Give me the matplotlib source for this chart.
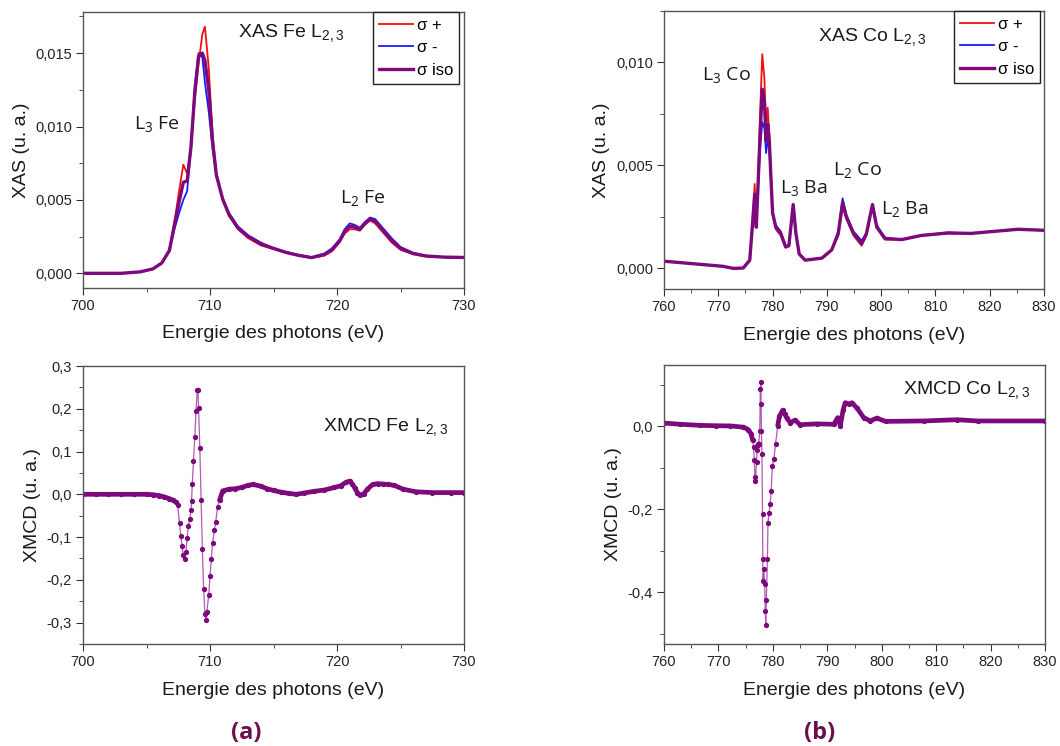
import matplotlib
matplotlib.use('Agg')
import matplotlib.pyplot as plt
from matplotlib.ticker import MultipleLocator, FuncFormatter
import numpy as np

# XAS Fe L2,3 : energies (eV) and intensities
fe_E = [700, 703, 704.5, 705.5, 706.2, 706.8, 707.2, 707.6, 707.9, 708.2,
        708.5, 708.8, 709.1, 709.4, 709.6, 709.9, 710.2, 710.5, 711.0, 711.5,
        712.2, 713.0, 714.0, 715.0, 716.0, 717.0, 718.0, 719.0, 719.6, 720.2,
        720.6, 721.0, 721.4, 721.8, 722.2, 722.6, 723.0, 723.6, 724.3, 725.0,
        726.0, 727.0, 728.5, 730]
fe_plus = [0.0, 0.0, 0.0001, 0.0003, 0.0007, 0.0016, 0.0035, 0.0058, 0.0074, 0.0068,
           0.0085, 0.0118, 0.0143, 0.0163, 0.0168, 0.0140, 0.0095, 0.0068, 0.0050, 0.0039,
           0.0030, 0.0024, 0.0019, 0.00165, 0.0014, 0.0012, 0.00105, 0.0012, 0.0015, 0.0021,
           0.0027, 0.0030, 0.0030, 0.0029, 0.0033, 0.0036, 0.0034, 0.0028, 0.0021, 0.0016,
           0.0013, 0.00115, 0.0011, 0.00108]
fe_minus = [0.0, 0.0, 0.0001, 0.0003, 0.0007, 0.0015, 0.0030, 0.0042, 0.0050, 0.0056,
            0.0085, 0.0128, 0.0150, 0.0147, 0.0130, 0.0110, 0.0085, 0.0066, 0.0051, 0.0041,
            0.0032, 0.0026, 0.0021, 0.0017, 0.00145, 0.00125, 0.0011, 0.00135, 0.0017, 0.0023,
            0.0030, 0.0034, 0.0033, 0.0031, 0.0035, 0.0038, 0.0037, 0.0031, 0.0024, 0.0018,
            0.0014, 0.0012, 0.0011, 0.00108]
fe_iso = [0.0, 0.0, 0.0001, 0.0003, 0.0007, 0.00155, 0.0033, 0.0050, 0.0062, 0.0063,
          0.0086, 0.0123, 0.0148, 0.0150, 0.0145, 0.0125, 0.0090, 0.0067, 0.00505, 0.0040,
          0.0031, 0.0025, 0.0020, 0.0017, 0.00142, 0.00122, 0.00107, 0.00128, 0.0016, 0.0022,
          0.00285, 0.0032, 0.00315, 0.0030, 0.0034, 0.0037, 0.00355, 0.00295, 0.00225, 0.0017,
          0.00135, 0.00118, 0.0011, 0.00108]

# XAS Co L2,3 (+ Ba M edges)
co_E = [760, 764.8, 770.9, 772.8, 774.6, 775.8, 776.4, 776.7, 777.0, 777.3,
        777.7, 778.1, 778.5, 778.8, 779.1, 779.4, 779.7, 780.0, 780.6, 781.5,
        782.4, 783.0, 783.8, 784.3, 784.9, 786.0, 789.1, 790.9, 792.1, 792.9,
        793.6, 794.9, 796.4, 797.3, 798.4, 799.2, 800.7, 803.8, 807.4, 812.3,
        816.6, 820.9, 825.2, 830]
co_plus = [0.00035, 0.00024, 0.0001, 0.0, 0.00002, 0.0004, 0.0026, 0.0041, 0.0020, 0.0040,
           0.0075, 0.0104, 0.0092, 0.0068, 0.0078, 0.0065, 0.0046, 0.0027, 0.0019, 0.0016,
           0.0010, 0.0011, 0.0031, 0.0017, 0.0007, 0.0004, 0.0005, 0.0009, 0.0016, 0.0030,
           0.0024, 0.0016, 0.0011, 0.0016, 0.0031, 0.0020, 0.0014, 0.0014, 0.0016, 0.0017,
           0.0017, 0.0018, 0.0019, 0.00185]
co_minus = [0.00035, 0.00024, 0.0001, 0.0, 0.00002, 0.0004, 0.0024, 0.0031, 0.0020, 0.0037,
            0.0058, 0.0071, 0.0068, 0.0056, 0.0062, 0.0058, 0.0042, 0.0026, 0.0021, 0.0018,
            0.0011, 0.0011, 0.0031, 0.0017, 0.0007, 0.0004, 0.0005, 0.0009, 0.0018, 0.0034,
            0.0026, 0.0018, 0.00135, 0.0017, 0.0031, 0.0021, 0.0015, 0.0014, 0.0016, 0.00175,
            0.0017, 0.0018, 0.0019, 0.00185]
co_iso = [0.00035, 0.00024, 0.0001, 0.0, 0.00002, 0.0004, 0.0025, 0.0036, 0.0020, 0.0039,
          0.0065, 0.0087, 0.0081, 0.0062, 0.0070, 0.0062, 0.0044, 0.0027, 0.0020, 0.0017,
          0.00105, 0.0011, 0.0031, 0.0017, 0.0007, 0.0004, 0.0005, 0.0009, 0.0017, 0.0032,
          0.0025, 0.0017, 0.0012, 0.0017, 0.0031, 0.0020, 0.00145, 0.0014, 0.0016, 0.00172,
          0.0017, 0.0018, 0.0019, 0.00185]

# XMCD Fe
fe_xmcd_E = [700, 701, 702, 703, 704, 705, 705.5, 706.0, 706.4, 706.8,
             707.1, 707.3, 707.45, 707.6, 707.7, 707.8, 707.9, 708.0, 708.1, 708.2,
             708.3, 708.4, 708.5, 708.55, 708.6, 708.7, 708.8, 708.9, 709.0, 709.05,
             709.1, 709.2, 709.3, 709.4, 709.5, 709.6, 709.7, 709.75, 709.9, 710.0,
             710.1, 710.2, 710.35, 710.45, 710.6, 710.75, 711.0, 711.5, 712.0, 712.5,
             713.0, 713.4, 714.0, 714.5, 715.0, 715.6, 716.2, 716.8, 717.4, 718.2,
             719.0, 719.8, 720.3, 720.7, 721.0, 721.2, 721.4, 721.6, 721.8, 722.1,
             722.4, 722.8, 723.2, 723.6, 724.0, 724.5, 725.2, 726.2, 727.5, 729,
             730]
fe_xmcd = [0, 0, 0, 0, 0, 0, -0.001, -0.003, -0.006, -0.010,
           -0.014, -0.018, -0.025, -0.068, -0.097, -0.122, -0.143, -0.151, -0.136, -0.101,
           -0.075, -0.057, -0.037, -0.016, 0.023, 0.077, 0.133, 0.195, 0.243, 0.245,
           0.202, 0.109, -0.014, -0.129, -0.222, -0.279, -0.295, -0.276, -0.235, -0.192,
           -0.152, -0.115, -0.084, -0.064, -0.029, -0.014, 0.008, 0.012, 0.013, 0.016,
           0.021, 0.023, 0.019, 0.013, 0.009, 0.005, 0.002, 0.000, 0.003, 0.007,
           0.010, 0.016, 0.020, 0.028, 0.031, 0.024, 0.015, 0.004, -0.002, 0.001,
           0.012, 0.023, 0.025, 0.024, 0.023, 0.021, 0.012, 0.006, 0.004, 0.004,
           0.004]

# XMCD Co
co_xmcd_E = [760, 763, 766.6, 769.5, 772.2, 774.6, 775.5, 776.0, 776.3, 776.45,
             776.6, 776.7, 776.8, 777.0, 777.1, 777.2, 777.4, 777.6, 777.7, 777.8,
             777.85, 777.9, 778.0, 778.1, 778.15, 778.2, 778.35, 778.5, 778.6, 778.7,
             778.8, 779.0, 779.1, 779.3, 779.5, 779.7, 779.9, 780.2, 780.5, 780.9,
             781.2, 781.8, 782.2, 782.6, 783.2, 784.1, 785.0, 788.1, 791.2, 791.9,
             792.4, 792.9, 793.3, 794.0, 794.5, 795.4, 796.7, 797.9, 799.1, 800.7,
             807.7, 813.8, 817.6, 830]
co_xmcd = [0.008, 0.005, 0.0024, 0.0015, 0.001, -0.002, -0.008, -0.018, -0.034, -0.050,
           -0.082, -0.123, -0.131, -0.086, -0.058, -0.046, -0.042, -0.010, 0.091, 0.107,
           0.055, -0.010, -0.066, -0.212, -0.321, -0.373, -0.343, -0.381, -0.446, -0.478,
           -0.418, -0.321, -0.232, -0.210, -0.187, -0.155, -0.095, -0.078, -0.042, 0.002,
           0.024, 0.039, 0.030, 0.019, 0.009, 0.015, 0.004, 0.006, 0.005, 0.021,
           0.002, 0.039, 0.057, 0.054, 0.057, 0.045, 0.021, 0.013, 0.020, 0.012,
           0.013, 0.016, 0.013, 0.013]

plt.rcParams['font.family'] = ['Liberation Sans', 'DejaVu Sans']
plt.rcParams['mathtext.fontset'] = 'custom'
plt.rcParams['mathtext.rm'] = 'Liberation Sans'

RED = '#f01010'
BLUE = '#1a1aff'
PURPLE = '#7d0a7d'
LABEL_COL = '#6b0f4e'
SPINE = '#555555'

W, H = 1060, 746
fig = plt.figure(figsize=(W / 100, H / 100), dpi=100)


def box(l, t, r, b):
    return [l / W, 1 - b / H, (r - l) / W, (b - t) / H]


ax1 = fig.add_axes(box(83, 12, 464, 288))
ax2 = fig.add_axes(box(664, 11, 1044, 289))
ax3 = fig.add_axes(box(83, 366, 464, 644))
ax4 = fig.add_axes(box(664, 365, 1045, 644))


def comma(fmt):
    return FuncFormatter(lambda v, p: (fmt % v).replace('.', ','))


def style(ax, xlim, ylim, xmaj, ymaj, yfmt, ylabel, ylab_x):
    ax.set_xlim(*xlim)
    ax.set_ylim(*ylim)
    ax.xaxis.set_major_locator(MultipleLocator(xmaj))
    ax.xaxis.set_minor_locator(MultipleLocator(5))
    ax.yaxis.set_major_locator(MultipleLocator(ymaj))
    ax.yaxis.set_minor_locator(MultipleLocator(ymaj / 2))
    ax.yaxis.set_major_formatter(comma(yfmt))
    ax.tick_params(which='both', direction='out', top=False, right=False,
                   color='#333333', labelsize=10.5, labelcolor='#222222')
    ax.tick_params(which='major', length=5, pad=3)
    ax.tick_params(which='minor', length=3)
    for s in ax.spines.values():
        s.set_color(SPINE)
        s.set_linewidth(1.0)
    ax.set_xlabel('Energie des photons (eV)', fontsize=14, color='#1a1a1a')
    ax.xaxis.set_label_coords(0.5, -0.135)
    ax.set_ylabel(ylabel, fontsize=14, color='#1a1a1a')
    ax.yaxis.set_label_coords(ylab_x, 0.5)


# XAS panels
for ax, E, p, m, i, gap in [(ax1, fe_E, fe_plus, fe_minus, fe_iso, 5 / 381),
                            (ax2, co_E, co_plus, co_minus, co_iso, 4 / 380)]:
    ax.plot(E, p, color=RED, lw=1.3, label='σ +')
    ax.plot(E, m, color=BLUE, lw=1.3, label='σ -')
    ax.plot(E, i, color=PURPLE, lw=2.4, label='σ iso')
    leg = ax.legend(loc='upper right', bbox_to_anchor=(1 - gap, 1.0),
                    fontsize=12, fancybox=False, edgecolor='#222222',
                    framealpha=1, borderaxespad=0.0, handlelength=2.0,
                    handletextpad=0.25, labelspacing=0.45, borderpad=0.35)
    leg.get_frame().set_linewidth(1.0)

style(ax1, (700, 730), (-0.001, 0.0178), 10, 0.005, '%.3f', 'XAS (u. a.)', -0.139)
style(ax2, (760, 830), (-0.001, 0.0125), 10, 0.005, '%.3f', 'XAS (u. a.)', -0.142)

# XMCD panels: thin line with dots, thick where the curve is slow
for ax, E, v in [(ax3, fe_xmcd_E, fe_xmcd), (ax4, co_xmcd_E, co_xmcd)]:
    E = np.array(E)
    v = np.array(v)
    ax.plot(E, v, color='#b25ab2', lw=0.9, marker='o', ms=2.8,
            mfc=PURPLE, mec=PURPLE)
    slope = np.abs(np.gradient(v, E))
    ax.plot(E, np.where(slope < 0.1, v, np.nan), color=PURPLE, lw=3.4,
            solid_capstyle='round')

style(ax3, (700, 730), (-0.35, 0.3), 10, 0.1, '%.1f', 'XMCD (u. a.)', -0.110)
style(ax4, (760, 830), (-0.525, 0.148), 10, 0.2, '%.1f', 'XMCD (u. a.)', -0.110)

# annotations
txt = dict(fontsize=14, color='#1a1a1a', ha='left', va='center')
peak = dict(fontsize=14, color='#1a1a1a', ha='left', va='center',
            family=['Open Sans', 'DejaVu Sans'])
ax1.text(712.2, 0.0163, r'XAS Fe L$_{2,3}$', **txt)
ax1.text(704.0, 0.0102, r'L$\mathregular{_3}$ Fe', **peak)
ax1.text(720.2, 0.0051, r'L$\mathregular{_2}$ Fe', **peak)
ax2.text(788.4, 0.0112, r'XAS Co L$_{2,3}$', **txt)
ax2.text(767.0, 0.0094, r'L$\mathregular{_3}$ Co', **peak)
ax2.text(781.4, 0.0039, r'L$\mathregular{_3}$ Ba', **peak)
ax2.text(791.1, 0.0048, r'L$\mathregular{_2}$ Co', **peak)
ax2.text(800.0, 0.0029, r'L$\mathregular{_2}$ Ba', **peak)
ax3.text(718.9, 0.155, r'XMCD Fe L$_{2,3}$', **txt)
ax4.text(804.0, 0.085, r'XMCD Co L$_{2,3}$', **txt)

fig.text(246 / W, 1 - 733 / H, '(a)', fontsize=17, fontweight='bold',
         color=LABEL_COL, ha='center', va='center', family=['Open Sans', 'DejaVu Sans'])
fig.text(820 / W, 1 - 733 / H, '(b)', fontsize=17, fontweight='bold',
         color=LABEL_COL, ha='center', va='center', family=['Open Sans', 'DejaVu Sans'])

fig.savefig('out.png', dpi=100)
